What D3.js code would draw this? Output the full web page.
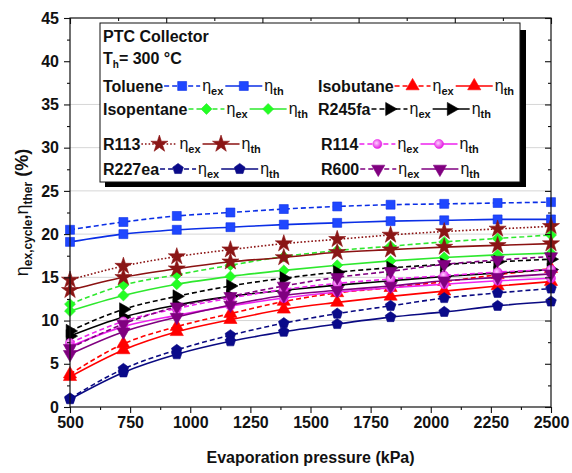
<!DOCTYPE html>
<html><head><meta charset="utf-8">
<script src="https://cdn.jsdelivr.net/npm/d3@7"></script>
<style>body{margin:0;background:#fff}svg{display:block;font-family:Arial,"Liberation Sans",sans-serif}</style>
</head><body><svg id="c" width="572" height="473"></svg>
<script>
// ---------- data ----------
const pressure = [500, 722, 944, 1167, 1389, 1611, 1833, 2056, 2278, 2500];
const xTickValues = [500, 750, 1000, 1250, 1500, 1750, 2000, 2250, 2500];
const yTickValues = [0, 5, 10, 15, 20, 25, 30, 35, 40, 45];
const gridValues = [10, 15, 20, 25, 30, 35];
const fluids = ["Toluene", "Isobutane", "Isopentane", "R245fa", "R113", "R114", "R227ea", "R600"];

const tolueneEx   = [20.5, 21.4, 22.1, 22.5, 22.9, 23.2, 23.4, 23.5, 23.6, 23.7];
const tolueneTh   = [19.1, 20.0, 20.5, 20.8, 21.1, 21.3, 21.5, 21.6, 21.7, 21.7];
const isobutaneEx = [3.8, 7.3, 9.3, 10.8, 12.2, 13.2, 13.8, 14.5, 15.3, 16.0];
const isobutaneTh = [3.5, 6.6, 8.7, 10.1, 11.3, 12.1, 12.8, 13.4, 14.0, 14.5];
const isopentaneEx= [11.9, 14.1, 15.3, 16.4, 17.4, 18.1, 18.6, 19.1, 19.5, 19.9];
const isopentaneTh= [11.1, 12.9, 14.2, 15.1, 15.8, 16.4, 16.9, 17.3, 17.6, 17.8];
const r245faEx    = [8.8, 11.3, 12.8, 14.0, 14.9, 15.6, 16.1, 16.5, 16.8, 17.1];
const r245faTh    = [8.2, 10.4, 11.8, 12.8, 13.5, 14.1, 14.6, 15.1, 15.5, 15.9];
const r113Ex      = [14.7, 16.3, 17.4, 18.2, 18.9, 19.4, 19.9, 20.3, 20.6, 20.9];
const r113Th      = [13.5, 15.0, 16.0, 16.8, 17.3, 17.9, 18.2, 18.5, 18.7, 18.9];
const r114Ex      = [7.4, 9.9, 11.4, 12.6, 13.6, 14.3, 14.8, 15.2, 15.6, 15.9];
const r114Th      = [7.0, 9.3, 10.6, 11.7, 12.6, 13.3, 13.8, 14.2, 14.6, 14.9];
const r227eaEx    = [1.0, 4.4, 6.6, 8.3, 9.7, 10.8, 11.7, 12.6, 13.2, 13.7];
const r227eaTh    = [0.9, 4.0, 6.1, 7.6, 8.7, 9.6, 10.4, 11.0, 11.7, 12.2];
const r600Ex      = [6.8, 9.6, 11.6, 12.8, 14.0, 15.0, 15.7, 16.5, 17.0, 17.4];
const r600Th      = [6.1, 8.7, 10.4, 11.8, 12.9, 13.5, 14.0, 14.6, 15.0, 15.4];

// ---------- styles ----------
const pentagon = { draw(ctx, size) {
  const r = Math.sqrt(size / 2.378);
  for (let i = 0; i < 5; i++) {
    const a = -Math.PI / 2 + i * 2 * Math.PI / 5;
    const px = r * Math.cos(a), py = r * Math.sin(a);
    if (i === 0) ctx.moveTo(px, py); else ctx.lineTo(px, py);
  }
  ctx.closePath();
}};
const styles = {
  "Toluene":    {line: "#0b2fe6", fill: "#1f47ff", sym: d3.symbolSquare,   size: 80, rot: 0},
  "Isobutane":  {line: "#ff0000", fill: "#ff0000", sym: d3.symbolTriangle, size: 75, rot: 0},
  "Isopentane": {line: "#2ee82e", fill: "#22ff22", sym: d3.symbolSquare,   size: 60, rot: 45},
  "R245fa":     {line: "#000000", fill: "#000000", sym: d3.symbolTriangle, size: 75, rot: 90},
  "R113":       {line: "#8b1212", fill: "#8a1616", sym: d3.symbolStar,     size: 90, rot: 0},
  "R114":       {line: "#ee22ee", fill: "url(#g114)", sym: d3.symbolCircle, size: 64, rot: 0},
  "R227ea":     {line: "#0a0a82", fill: "#0a0a8a", sym: pentagon,          size: 75, rot: 0},
  "R600":       {line: "#800080", fill: "#800080", sym: d3.symbolTriangle, size: 75, rot: 180}
};
const seriesData = {
  "Toluene": [tolueneEx, tolueneTh], "Isobutane": [isobutaneEx, isobutaneTh],
  "Isopentane": [isopentaneEx, isopentaneTh], "R245fa": [r245faEx, r245faTh],
  "R113": [r113Ex, r113Th], "R114": [r114Ex, r114Th],
  "R227ea": [r227eaEx, r227eaTh], "R600": [r600Ex, r600Th]
};

// ---------- layout ----------
const svg = d3.select("#c");
const defs = svg.append("defs");
const grad = defs.append("radialGradient").attr("id", "g114").attr("cx", "40%").attr("cy", "40%").attr("r", "60%");
grad.append("stop").attr("offset", "0%").attr("stop-color", "#ffd0ff");
grad.append("stop").attr("offset", "100%").attr("stop-color", "#e020e0");

const L = 70, R = 551, T = 18, B = 407;
const x = d3.scaleLinear().domain([500, 2500]).range([L, R]);
const y = d3.scaleLinear().domain([0, 45]).range([B, T]);

// grid
svg.append("g").selectAll("line").data(gridValues).join("line")
  .attr("x1", L).attr("x2", R).attr("y1", d => y(d)).attr("y2", d => y(d))
  .attr("stroke", "#d6d6d6").attr("stroke-width", 1);

function dashFor(name, isEx) {
  if (!isEx) return null;
  return name === "R113" ? "1.6,2" : "5,3";
}
function markerPath(s) { return d3.symbol().type(s.sym).size(s.size)(); }

// series
const plot = svg.append("g");
const lineGen = d3.line().x((d, i) => x(pressure[i])).y(d => y(d)).curve(d3.curveMonotoneX);
fluids.forEach(name => {
  const s = styles[name];
  seriesData[name].forEach((vals, k) => {
    const isEx = k === 0;
    plot.append("path").datum(vals).attr("d", lineGen)
      .attr("fill", "none").attr("stroke", s.line).attr("stroke-width", 1.6)
      .attr("stroke-dasharray", dashFor(name, isEx));
    plot.append("g").selectAll("path").data(vals).join("path")
      .attr("d", markerPath(s))
      .attr("transform", (d, i) => `translate(${x(pressure[i])},${y(d)}) rotate(${s.rot})`)
      .attr("fill", s.fill).attr("stroke", s.line).attr("stroke-width", 0.6);
  });
});

// axes
const axB = svg.append("g").attr("transform", `translate(0,${B})`)
  .call(d3.axisBottom(x).tickValues(xTickValues).tickSize(6).tickPadding(4).tickFormat(d3.format("d")));
const axL = svg.append("g").attr("transform", `translate(${L},0)`)
  .call(d3.axisLeft(y).tickValues(yTickValues).tickSize(6).tickPadding(5));
[axB, axL].forEach(a => {
  a.select(".domain").remove();
  a.selectAll("text").attr("font-size", 16).attr("font-weight", "bold").attr("fill", "#111")
    .attr("font-family", "Arial, 'Liberation Sans', sans-serif");
});
const minorX = xTickValues.slice(0, -1).map(v => v + 125);
const minorY = yTickValues.slice(0, -1).map(v => v + 2.5);
svg.append("g").attr("transform", `translate(0,${B})`)
  .call(d3.axisBottom(x).tickValues(minorX).tickSize(3).tickFormat("")).call(g => g.select(".domain").remove());
svg.append("g").attr("transform", `translate(${L},0)`)
  .call(d3.axisLeft(y).tickValues(minorY).tickSize(3).tickFormat("")).call(g => g.select(".domain").remove());
svg.append("g").attr("transform", `translate(${R},0)`)
  .call(d3.axisRight(y).tickValues(yTickValues).tickSize(-6).tickFormat("")).call(g => g.select(".domain").remove());
svg.append("g").attr("transform", `translate(${R},0)`)
  .call(d3.axisRight(y).tickValues(minorY).tickSize(-3).tickFormat("")).call(g => g.select(".domain").remove());
const xt = d3.scaleLinear().domain([0, 10]).range([L, R]);
svg.append("g").attr("transform", `translate(0,${T})`)
  .call(d3.axisTop(xt).tickValues([0, 2, 4, 6, 8, 10]).tickSize(-6).tickFormat("")).call(g => g.select(".domain").remove());
svg.append("g").attr("transform", `translate(0,${T})`)
  .call(d3.axisTop(xt).tickValues([1, 3, 5, 7, 9]).tickSize(-3).tickFormat("")).call(g => g.select(".domain").remove());
svg.selectAll(".tick line").attr("stroke", "#111").attr("stroke-width", 1.1);

// frame
svg.append("rect").attr("x", L).attr("y", T).attr("width", R - L).attr("height", B - T)
  .attr("fill", "none").attr("stroke", "#111").attr("stroke-width", 1.2);

// axis titles
svg.append("text").attr("x", (L + R) / 2).attr("y", 463).attr("text-anchor", "middle")
  .attr("font-size", 16).attr("font-weight", "bold").attr("fill", "#111").text("Evaporation pressure (kPa)");
const yl = svg.append("text").attr("transform", `translate(28,${(T + B) / 2}) rotate(-90)`)
  .attr("text-anchor", "middle").attr("font-size", 18).attr("font-weight", "bold").attr("fill", "#111");
yl.append("tspan").attr("font-weight", "normal").text("η");
yl.append("tspan").attr("font-size", 12).attr("dy", 4).text("ex,cycle");
yl.append("tspan").attr("dy", -4).text(",");
yl.append("tspan").attr("font-weight", "normal").text("η");
yl.append("tspan").attr("font-size", 12).attr("dy", 4).text("ther");
yl.append("tspan").attr("dy", -4).text(" (%)");

// legend
const lg = svg.append("g");
lg.append("rect").attr("x", 105).attr("y", 30).attr("width", 421).attr("height", 157).attr("fill", "#000");
lg.append("rect").attr("x", 100).attr("y", 23).attr("width", 420).attr("height", 159)
  .attr("fill", "#fff").attr("stroke", "#111").attr("stroke-width", 1);
lg.append("text").attr("x", 103).attr("y", 42).attr("font-size", 16).attr("font-weight", "bold").attr("fill", "#111").text("PTC Collector");
const th = lg.append("text").attr("x", 103).attr("y", 64).attr("font-size", 16).attr("font-weight", "bold").attr("fill", "#111");
th.append("tspan").text("T");
th.append("tspan").attr("font-size", 10).attr("dy", 4).text("h");
th.append("tspan").attr("dy", -4).text("= 300 °C");

function sample(x1, x2, yc, name, isEx) {
  const s = styles[name];
  lg.append("line").attr("x1", x1).attr("x2", x2).attr("y1", yc).attr("y2", yc)
    .attr("stroke", s.line).attr("stroke-width", 1.6).attr("stroke-dasharray", dashFor(name, isEx));
  lg.append("path").attr("d", markerPath(s))
    .attr("transform", `translate(${(x1 + x2) / 2},${yc}) rotate(${s.rot})`)
    .attr("fill", s.fill).attr("stroke", s.line).attr("stroke-width", 0.6);
}
function eta(x0, yc, sub) {
  const t = lg.append("text").attr("x", x0).attr("y", yc + 5).attr("font-size", 16).attr("fill", "#111");
  t.append("tspan").text("η");
  t.append("tspan").attr("font-size", 11).attr("font-weight", "bold").attr("dy", 4).text(sub);
  return t.node().getComputedTextLength();
}
const legendLeft = ["Toluene", "Isopentane", "R113", "R227ea"];
const legendRight = ["Isobutane", "R245fa", "R114", "R600"];
const rowY = [86, 109, 144, 169];
function legendEntry(x0, yc, name) {
  const t = lg.append("text").attr("x", x0).attr("y", yc + 6).attr("font-size", 16)
    .attr("font-weight", "bold").attr("fill", "#111").text(name);
  let cx = x0 + t.node().getComputedTextLength() + 1;
  sample(cx, cx + 36, yc, name, true); cx += 38;
  cx += eta(cx, yc, "ex") + 2;
  sample(cx, cx + 37, yc, name, false); cx += 39;
  eta(cx, yc, "th");
}
legendLeft.forEach((n, i) => legendEntry(103, rowY[i], n));
legendRight.forEach((n, i) => legendEntry(i < 2 ? 318 : 321, rowY[i], n));
</script></body></html>
